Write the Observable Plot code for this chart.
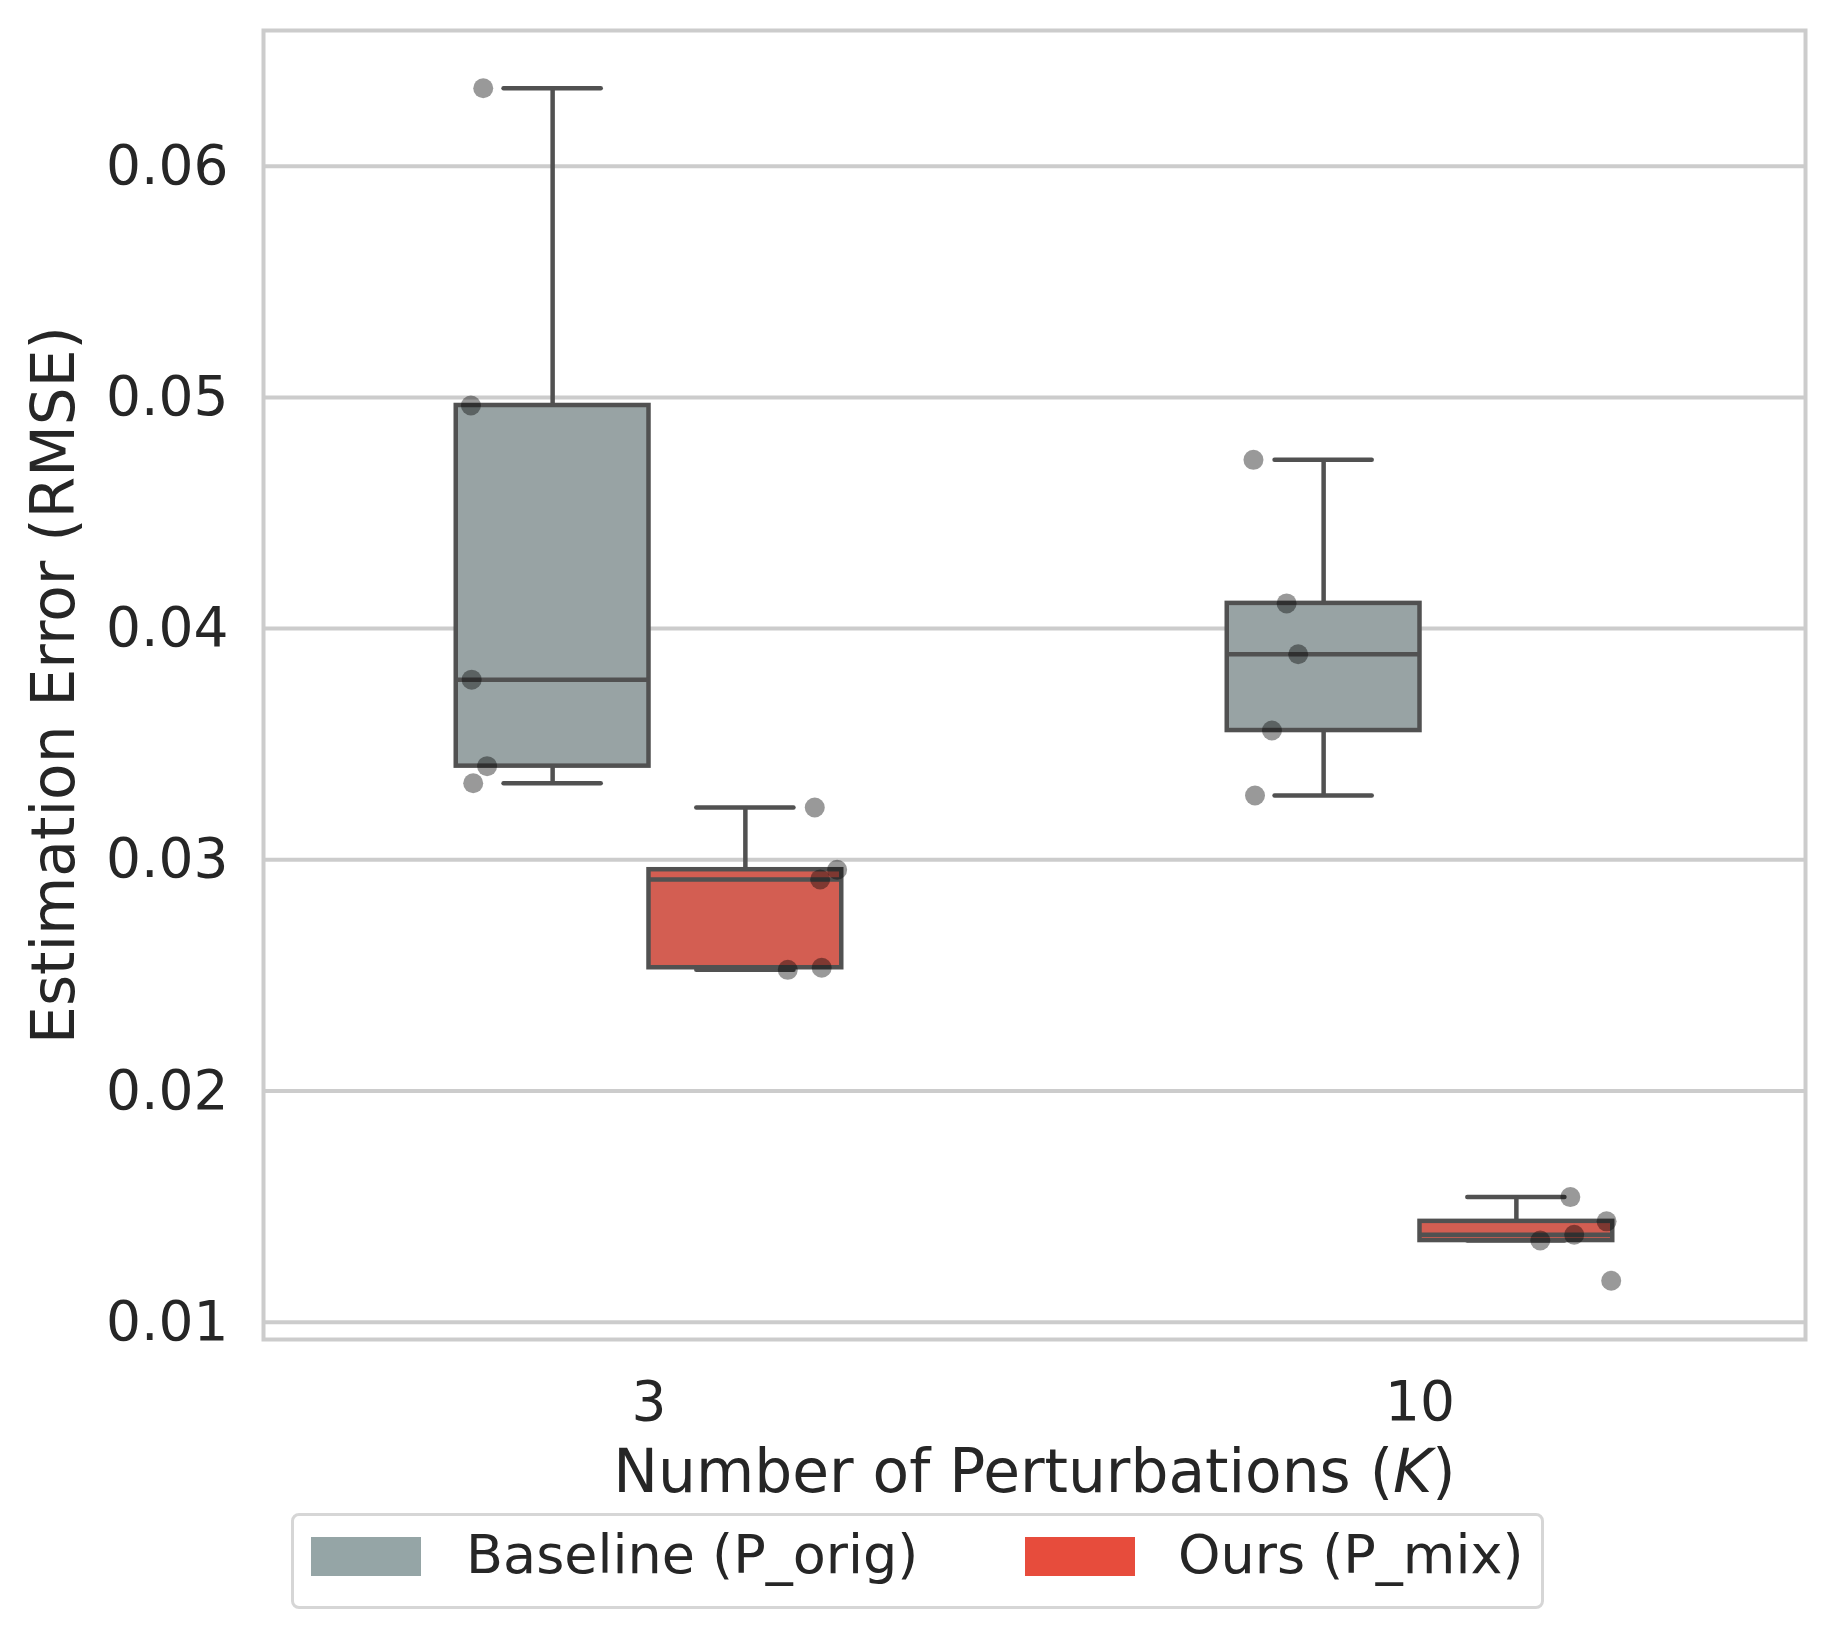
<!DOCTYPE html>
<html>
<head>
<meta charset="utf-8">
<script src="https://cdn.jsdelivr.net/npm/d3@7"></script>
<script src="https://cdn.jsdelivr.net/npm/@observablehq/plot@0.6"></script>
<style>
html, body { margin: 0; padding: 0; background: #ffffff; }
#wrap { position: relative; width: 1834px; height: 1640px; font-family: "DejaVu Sans", sans-serif; color: #262626; }
#legend { position: absolute; left: 291px; top: 1513px; width: 1253px; height: 96px; box-sizing: border-box;
  border: 3px solid #d6d6d6; border-radius: 8px; background: #fff; }
.sw { position: absolute; top: 21px; width: 110px; height: 39px; }
.lt { position: absolute; top: 12px; font-size: 54px; line-height: 54px; white-space: nowrap; color: #262626; }
</style>
</head>
<body>
<div id="wrap"><div id="chart"></div><div id="legend"></div></div>
<script>
// ---- data ----
const categories = ["3", "10"];
const series = ["Baseline (P_orig)", "Ours (P_mix)"];
const legendColors = ["#95a5a6", "#e74c3c"];
const boxColors = ["#98a3a4", "#d35e52"];

const baselineK3 = [0.06337, 0.04965, 0.03779, 0.03405, 0.03331];
const oursK3 = [0.03226, 0.02957, 0.02915, 0.02524, 0.02533];
const baselineK10 = [0.04730, 0.04109, 0.03889, 0.03559, 0.03278];
const oursK10 = [0.01541, 0.01436, 0.01378, 0.01353, 0.01179];

// strip-plot jitter offsets (in category units)
const baselineK3Jitter = [-0.015, -0.031, -0.030, -0.010, -0.028];
const oursK3Jitter = [0.015, 0.044, 0.022, -0.020, 0.024];
const baselineK10Jitter = [-0.016, 0.027, 0.042, 0.008, -0.014];
const oursK10Jitter = [-0.005, 0.042, 0.000, -0.044, 0.048];

const yTicks = [0.01, 0.02, 0.03, 0.04, 0.05, 0.06];
const yLabel = "Estimation Error (RMSE)";
const xLabel = "Number of Perturbations (K)";

// ---- build tables ----
const groups = [
  {k: 0, s: 0, values: baselineK3, jitter: baselineK3Jitter},
  {k: 0, s: 1, values: oursK3, jitter: oursK3Jitter},
  {k: 1, s: 0, values: baselineK10, jitter: baselineK10Jitter},
  {k: 1, s: 1, values: oursK10, jitter: oursK10Jitter}
];
const boxWidth = 0.25, capHalf = 0.063, hueOffset = 0.2;
const boxes = groups.map(g => {
  const v = g.values.slice().sort(d3.ascending);
  const q1 = d3.quantile(v, 0.25), med = d3.quantile(v, 0.5), q3 = d3.quantile(v, 0.75);
  const iqr = q3 - q1;
  const lo = d3.min(v.filter(d => d >= q1 - 1.5 * iqr));
  const hi = d3.max(v.filter(d => d <= q3 + 1.5 * iqr));
  const x1 = g.k + (g.s === 0 ? -boxWidth : 0);
  return {s: g.s, q1, med, q3, lo, hi, x1, x2: x1 + boxWidth, cx: x1 + boxWidth / 2};
});
const points = groups.flatMap(g => g.values.map((v, i) => ({
  x: g.k + (g.s === 0 ? -hueOffset : hueOffset) + g.jitter[i], y: v
})));

const lineColor = "#515151";
const plot = Plot.plot({
  width: 1834,
  height: 1505,
  marginLeft: 263, marginRight: 29, marginTop: 30, marginBottom: 166,
  style: {fontFamily: "DejaVu Sans", fontSize: "55px", color: "#262626", background: "#ffffff", overflow: "visible"},
  x: {type: "linear", domain: [-0.5, 1.5], axis: null},
  y: {domain: [0.00925, 0.06587], axis: null},
  marks: [
    Plot.gridY(yTicks, {stroke: "#cccccc", strokeOpacity: 1, strokeWidth: 4}),
    Plot.frame({stroke: "#cccccc", strokeWidth: 4}),
    Plot.axisY(yTicks, {tickSize: 0, tickPadding: 35, tickFormat: d3.format(".2f"), fontSize: 55, fill: "#262626", label: null}),
    Plot.axisX([0, 1], {tickSize: 0, tickPadding: 41, tickFormat: i => categories[i], fontSize: 55, fill: "#262626", label: null}),
    // whiskers
    Plot.ruleX(boxes, {x: "cx", y1: "q3", y2: "hi", stroke: lineColor, strokeWidth: 4.5}),
    Plot.ruleX(boxes, {x: "cx", y1: "q1", y2: "lo", stroke: lineColor, strokeWidth: 4.5}),
    Plot.ruleY(boxes, {y: "hi", x1: d => d.cx - capHalf, x2: d => d.cx + capHalf, stroke: lineColor, strokeWidth: 4.5, strokeLinecap: "round"}),
    Plot.ruleY(boxes, {y: "lo", x1: d => d.cx - capHalf, x2: d => d.cx + capHalf, stroke: lineColor, strokeWidth: 4.5, strokeLinecap: "round"}),
    // boxes
    Plot.rect(boxes, {x1: "x1", x2: "x2", y1: "q1", y2: "q3", fill: d => boxColors[d.s], stroke: lineColor, strokeWidth: 4.5}),
    Plot.ruleY(boxes, {y: "med", x1: "x1", x2: "x2", stroke: lineColor, strokeWidth: 4.5}),
    // points
    Plot.dot(points, {x: "x", y: "y", r: 10, fill: "black", fillOpacity: 0.4, stroke: null}),
    // axis labels
    Plot.text([yLabel], {frameAnchor: "left", textAnchor: "middle", lineAnchor: "middle", dx: -209, rotate: -90, fontSize: 59.8, fill: "#262626", text: d => d}),
    Plot.text([xLabel], {frameAnchor: "bottom", textAnchor: "middle", lineAnchor: "middle", dy: 133, fontSize: 59.8, fill: "#262626", text: d => d})
  ]
});
document.getElementById("chart").appendChild(plot);

// italic K in the x label
plot.querySelectorAll("text").forEach(t => {
  if (t.textContent === xLabel) {
    t.textContent = "";
    const ns = "http://www.w3.org/2000/svg";
    const a = document.createElementNS(ns, "tspan"); a.textContent = "Number of Perturbations (";
    const b = document.createElementNS(ns, "tspan"); b.textContent = "K"; b.setAttribute("font-style", "italic");
    const c = document.createElementNS(ns, "tspan"); c.textContent = ")";
    t.appendChild(a); t.appendChild(b); t.appendChild(c);
  }
});

// legend below the chart
const legend = document.getElementById("legend");
const swLeft = [17, 731], txtLeft = [172, 884];
series.forEach((name, i) => {
  const sw = document.createElement("div");
  sw.className = "sw"; sw.style.left = swLeft[i] + "px"; sw.style.background = legendColors[i];
  const tx = document.createElement("div");
  tx.className = "lt"; tx.style.left = txtLeft[i] + "px"; tx.textContent = name;
  legend.appendChild(sw); legend.appendChild(tx);
});
</script>
</body>
</html>
